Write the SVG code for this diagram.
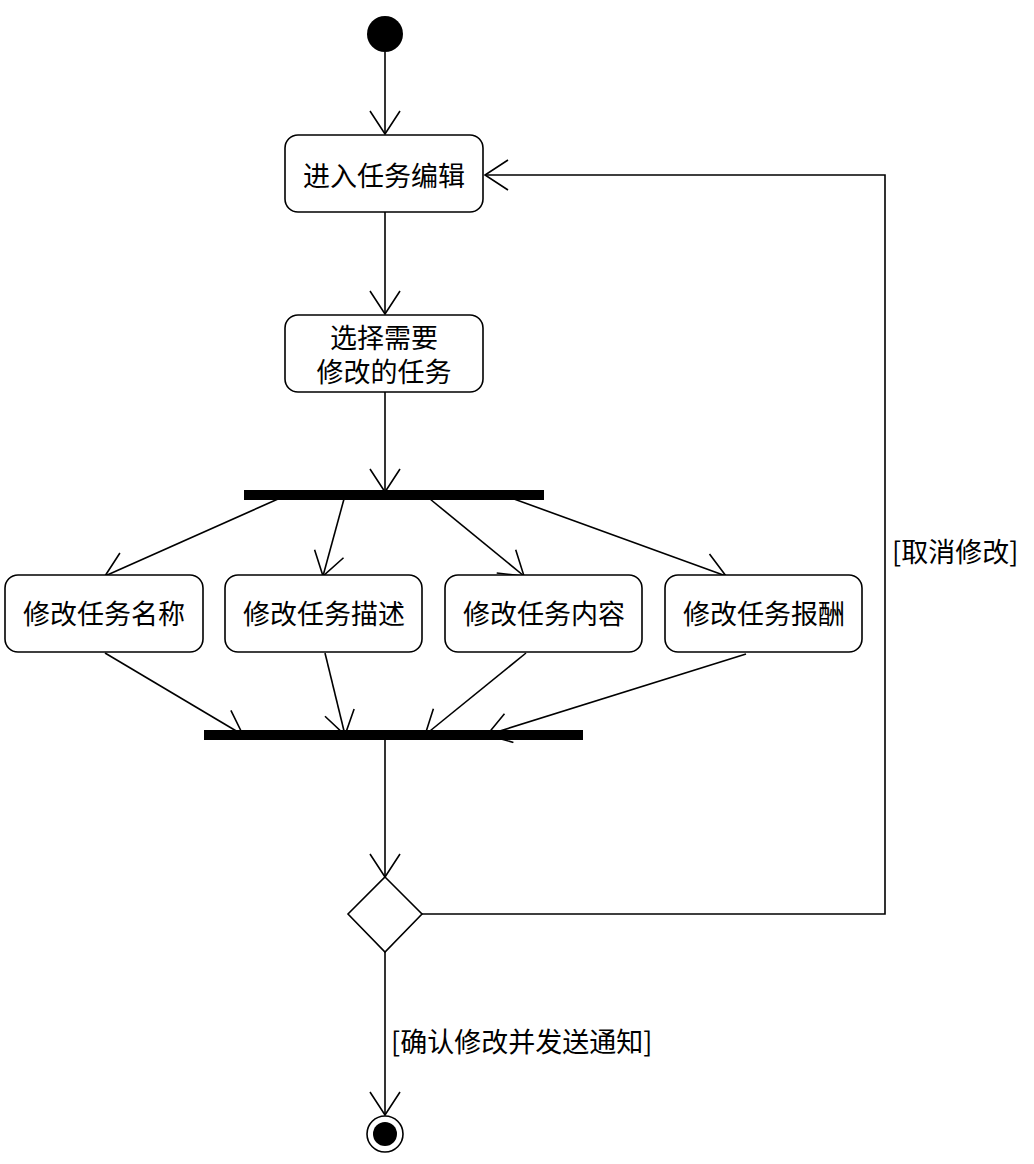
<svg xmlns="http://www.w3.org/2000/svg" width="1034" height="1164" viewBox="0 0 1034 1164">
<defs>
<style>
.node rect.act{fill:#fff;stroke:#000;stroke-width:1.6}
text{font-family:"Noto Sans CJK SC","Noto Sans",sans-serif;font-size:27px;fill:#000;dominant-baseline:central}
.c{text-anchor:middle}
.edge{fill:none;stroke:#000;stroke-width:1.6}
.bar{fill:#000}
</style>
<marker id="arr" markerUnits="userSpaceOnUse" markerWidth="30" markerHeight="34" refX="24" refY="16" orient="auto" viewBox="0 0 30 34">
<path d="M1,1 L24,16 L1,31" fill="none" stroke="#000" stroke-width="1.6"/>
</marker>
</defs>
<rect width="1034" height="1164" fill="#fff"/>
<g id="connectors">
<line class="edge" x1="385" y1="52" x2="385" y2="134" marker-end="url(#arr)"/>
<line class="edge" x1="385" y1="212" x2="385" y2="314" marker-end="url(#arr)"/>
<line class="edge" x1="385" y1="392" x2="385" y2="492" marker-end="url(#arr)"/>
<line class="edge" x1="278" y1="499" x2="105" y2="576" marker-end="url(#arr)"/>
<line class="edge" x1="344" y1="499" x2="323" y2="576" marker-end="url(#arr)"/>
<line class="edge" x1="430" y1="499" x2="524" y2="576" marker-end="url(#arr)"/>
<line class="edge" x1="514" y1="499" x2="726" y2="576" marker-end="url(#arr)"/>
<line class="edge" x1="105" y1="653" x2="243" y2="735" marker-end="url(#arr)"/>
<line class="edge" x1="325" y1="653" x2="345" y2="735" marker-end="url(#arr)"/>
<line class="edge" x1="526" y1="653" x2="425" y2="735" marker-end="url(#arr)"/>
<line class="edge" x1="746" y1="654" x2="487" y2="735" marker-end="url(#arr)"/>
<line class="edge" x1="385" y1="740" x2="385" y2="877" marker-end="url(#arr)"/>
<polyline class="edge" points="422,914 885,914 885,175 485,175" marker-end="url(#arr)"/>
<line class="edge" x1="385" y1="952" x2="385" y2="1115" marker-end="url(#arr)"/>
<text x="892" y="550">[取消修改]</text>
<text x="391" y="1040">[确认修改并发送通知]</text>
</g>
<g id="start" class="node"><circle cx="385" cy="34" r="18" fill="#000"/></g>
<g id="enter" class="node"><rect class="act" x="285" y="135" width="198" height="77" rx="13"/><text class="c" x="384" y="174">进入任务编辑</text></g>
<g id="select" class="node"><rect class="act" x="285" y="315" width="198" height="77" rx="13"/><text class="c" x="384" y="336">选择需要<tspan x="384" dy="34">修改的任务</tspan></text></g>
<g id="fork" class="node"><rect class="bar" x="244" y="490" width="300" height="10"/></g>
<g id="name" class="node"><rect class="act" x="5" y="575" width="198" height="77" rx="13"/><text class="c" x="104" y="612">修改任务名称</text></g>
<g id="desc" class="node"><rect class="act" x="225" y="575" width="197" height="77" rx="13"/><text class="c" x="324" y="612">修改任务描述</text></g>
<g id="content" class="node"><rect class="act" x="445" y="575" width="197" height="77" rx="13"/><text class="c" x="544" y="612">修改任务内容</text></g>
<g id="reward" class="node"><rect class="act" x="665" y="575" width="197" height="77" rx="13"/><text class="c" x="764" y="612">修改任务报酬</text></g>
<g id="join" class="node"><rect class="bar" x="204" y="730" width="379" height="10"/></g>
<g id="decision" class="node"><polygon points="385,877 422,914 385,952 348,914" fill="#fff" stroke="#000" stroke-width="1.6"/></g>
<g id="end" class="node"><circle cx="385" cy="1134" r="18" fill="#fff" stroke="#000" stroke-width="1.6"/><circle cx="385" cy="1134" r="12" fill="#000"/></g>
</svg>
